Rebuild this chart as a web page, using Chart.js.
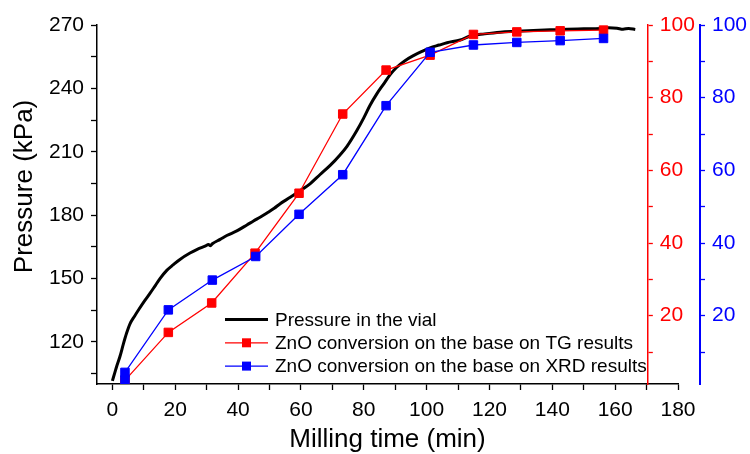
<!DOCTYPE html>
<html><head><meta charset="utf-8">
<script src="https://cdn.jsdelivr.net/npm/chart.js@4.4.1/dist/chart.umd.min.js"></script>
<style>html,body{margin:0;padding:0;background:#fff;}#wrap{width:750px;height:454px;}</style>
</head><body><div id="wrap"><canvas id="c" width="750" height="454"></canvas></div>
<script>
// ---- data ----
const pressureTime = [0,0.7,1.4,2.4,3.5,4.5,5.6,7,8.5,10.4,12,13.6,15.2,17.3,19.4,21.5,24.7,27,29.5,30.6,31.2,31.8,34.3,36.4,39.6,42.8,44.9,47,49.2,51.5,53.4,56.6,59.8,62.9,66.1,69.3,72.5,74.6,77.8,80,82,84.2,86.3,88.4,90.5,93,95.8,98.5,101.1,104,106.5,110.7,113.9,118.5,123.4,128.7,134,139.3,144.7,150,155.3,158,160.6,162.5,164.3,166.4];
const pressureKPa = [101.5,105,108.5,113,119,124,128.5,132,135.5,139.7,143,146.5,150,153.8,156.5,159,162,163.8,165.3,166.0,165.5,166.4,168.5,170.3,172.5,175.3,177.2,179,181,183.2,185.4,188.4,191.6,194.8,199.2,203.5,208.6,212.4,220,226,232,237.5,242,246.5,250,253,255.5,257.5,259.2,260.5,261.6,262.9,264.8,265.8,266.6,267,267.4,267.7,268,268.2,268.4,268.7,268.5,268,268.4,267.9];
const tgTime = [4,17.8,31.6,45.4,59.4,73.3,87.1,101.1,114.9,128.7,142.5,156.3];
const tgConversion = [2.2,15.4,23.5,37.2,53.7,75.5,87.6,91.7,97.4,98.1,98.4,98.6];
const xrdTime = [4,4,17.8,31.8,45.6,59.4,73.3,87.1,101.1,114.9,128.7,142.5,156.3];
const xrdConversion = [2.3,4.4,21.6,29.8,36.3,47.9,58.8,77.8,92.5,94.5,95.2,95.7,96.3];
const seriesLabels = ['Pressure in the vial','ZnO conversion on the base on TG results','ZnO conversion on the base on XRD results'];
const timeTicks = [0,20,40,60,80,100,120,140,160,180];
const pressureTicks = [120,150,180,210,240,270];
const conversionTicks = [20,40,60,80,100];

const FONT = "'Liberation Sans', Arial, sans-serif";
const toXY = (xs, ys) => xs.map((x, i) => ({x: x, y: ys[i]}));

function tickBuilder(majors) {
  return function (scale) {
    const step = majors[1] - majors[0];
    const vals = new Set();
    majors.forEach(v => { vals.add(v); vals.add(v - step / 2); });
    scale.ticks = [...vals].filter(v => v >= scale.min - 1e-9 && v <= scale.max + 1e-9)
      .sort((a, b) => a - b).map(v => ({value: v}));
  };
}
function labelFor(majors) {
  return function (v) { return majors.includes(v) ? String(v) : ''; };
}

const legendPlugin = {
  id: 'insideLegend',
  afterDraw(chart) {
    const ctx = chart.ctx;
    const x0 = 225, x1 = 268, tx = 275, y0 = 319.5, gap = 23.3;
    ctx.save();
    chart.data.datasets.forEach((d, i) => {
      const y = y0 + i * gap;
      ctx.strokeStyle = d.borderColor;
      ctx.lineWidth = d.borderWidth;
      ctx.beginPath(); ctx.moveTo(x0, y); ctx.lineTo(x1, y); ctx.stroke();
      if (d.pointRadius > 0) {
        ctx.fillStyle = d.pointBackgroundColor;
        ctx.fillRect((x0 + x1) / 2 - 4.5, y - 4.5, 9, 9);
      }
      ctx.fillStyle = '#000';
      ctx.font = '19px ' + FONT;
      ctx.textBaseline = 'middle';
      ctx.textAlign = 'left';
      ctx.fillText(seriesLabels[i], tx, y + 1);
    });
    ctx.restore();
  }
};

const tgAxisAt = 170.4; // x position of the red axis
const movePlugin = {
  id: 'moveTgAxis',
  afterLayout(chart) {
    const s = chart.scales.yTG;
    const px = chart.scales.x.getPixelForValue(tgAxisAt);
    s.left = px; s.right = px + 60;
  }
};

new Chart(document.getElementById('c'), {
  type: 'scatter',
  data: {
    datasets: [
      {label: seriesLabels[0], data: toXY(pressureTime, pressureKPa), yAxisID: 'yP', showLine: true,
       borderColor: '#000000', backgroundColor: '#000000', borderWidth: 3, pointRadius: 0,
       cubicInterpolationMode: 'monotone', order: 3},
      {label: seriesLabels[1], data: toXY(tgTime, tgConversion), yAxisID: 'yTG', showLine: true,
       borderColor: '#ff0000', backgroundColor: '#ff0000', borderWidth: 1.3, pointStyle: 'rect',
       pointRadius: 6, pointBorderWidth: 1, pointBackgroundColor: '#ff0000', pointBorderColor: '#ff0000', order: 2},
      {label: seriesLabels[2], data: toXY(xrdTime, xrdConversion), yAxisID: 'yX', showLine: true,
       borderColor: '#0000ff', backgroundColor: '#0000ff', borderWidth: 1.3, pointStyle: 'rect',
       pointRadius: 6, pointBorderWidth: 1, pointBackgroundColor: '#0000ff', pointBorderColor: '#0000ff', order: 1}
    ]
  },
  options: {
    responsive: false,
    animation: false,
    devicePixelRatio: 1,
    layout: {padding: {top: 25, left: 0, right: 0, bottom: 0}},
    plugins: {legend: {display: false}, tooltip: {enabled: false}},
    scales: {
      x: {
        type: 'linear', position: 'bottom', min: -4.9, max: 180,
        afterBuildTicks: tickBuilder(timeTicks),
        afterFit(s) { s.height = 70; },
        grid: {display: true, drawOnChartArea: false, drawTicks: true, tickLength: 6, tickColor: '#000', tickWidth: 1.3},
        border: {display: true, color: '#000', width: 1.5},
        ticks: {color: '#000', font: {family: FONT, size: 21}, padding: 8, maxRotation: 0, autoSkip: false,
                callback: labelFor(timeTicks)},
        title: {display: true, text: 'Milling time (min)', color: '#000',
                font: {family: FONT, size: 26, lineHeight: 1.0}, padding: {top: 0, bottom: 1.5}}
      },
      yP: {
        type: 'linear', position: 'left', min: 100, max: 270,
        afterBuildTicks: tickBuilder(pressureTicks),
        afterFit(s) { s.width = 97; },
        grid: {display: true, drawOnChartArea: false, drawTicks: true, tickLength: 6, tickColor: '#000', tickWidth: 1.3},
        border: {display: true, color: '#000', width: 1.5},
        ticks: {color: '#000', font: {family: FONT, size: 21}, padding: 7, autoSkip: false,
                callback: labelFor(pressureTicks)},
        title: {display: true, text: '     Pressure (kPa)', color: '#000',
                font: {family: FONT, size: 26, lineHeight: 1.2}, padding: {top: 9, bottom: 0}}
      },
      yTG: {
        type: 'linear', position: 'right', min: 1.2, max: 100,
        afterBuildTicks: tickBuilder(conversionTicks),
        afterFit(s) { s.width = 22; },
        grid: {display: true, drawOnChartArea: false, drawTicks: true, tickLength: 5, tickColor: '#ff0000', tickWidth: 1.3},
        border: {display: true, color: '#ff0000', width: 1.5},
        ticks: {color: '#ff0000', font: {family: FONT, size: 21}, padding: 7, autoSkip: false,
                callback: labelFor(conversionTicks)}
      },
      yX: {
        type: 'linear', position: 'right', min: 1.2, max: 100,
        afterBuildTicks: tickBuilder(conversionTicks),
        afterFit(s) { s.width = 50; },
        grid: {display: true, drawOnChartArea: false, drawTicks: true, tickLength: 5, tickColor: '#0000ff', tickWidth: 1.3},
        border: {display: true, color: '#0000ff', width: 2},
        ticks: {color: '#0000ff', font: {family: FONT, size: 21}, padding: 7, autoSkip: false,
                callback: labelFor(conversionTicks)}
      }
    }
  },
  plugins: [movePlugin, legendPlugin]
});
</script>
</body></html>
